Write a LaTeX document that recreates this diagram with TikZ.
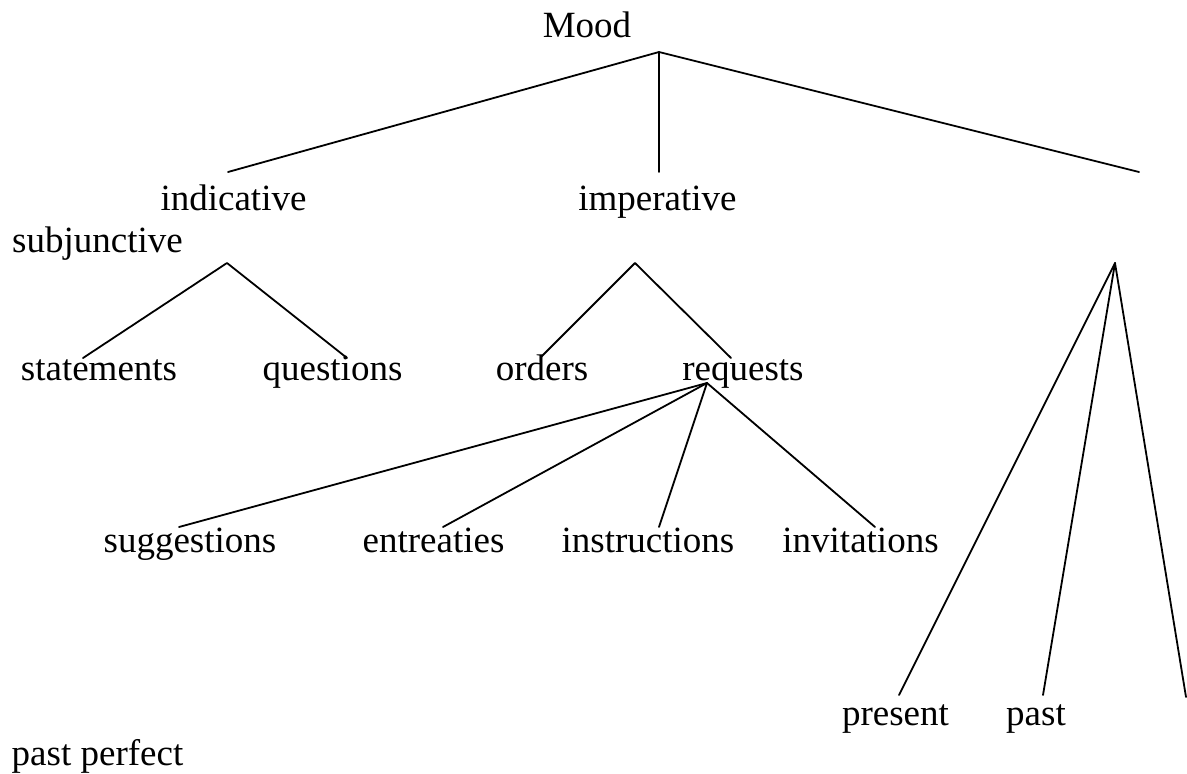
\documentclass[tikz,border=0pt]{standalone}
\usepackage{fontspec}
\setmainfont{Liberation Serif}
\begin{document}
\begin{tikzpicture}[x=1pt,y=-1pt,
  lbl/.style={anchor=base,inner sep=0pt,font=\fontsize{37}{44}\selectfont},
  edge/.style={line width=1.8pt,line cap=round,line join=round}]
\useasboundingbox (0,0) rectangle (1187,774);
% labels
\node[lbl] (mood) at (587,37) {Mood};
\node[lbl] (ind) at (233.5,210) {indicative};
\node[lbl] (imp) at (657.5,210) {imperative};
\node[lbl] (subj) at (97.5,252) {subjunctive};
\node[lbl] (stat) at (99,380) {statements};
\node[lbl] (ques) at (332.5,380) {questions};
\node[lbl] (ord) at (542,380) {orders};
\node[lbl] (req) at (743,380) {requests};
\node[lbl] (sugg) at (190,552) {suggestions};
\node[lbl] (entr) at (433.5,552) {entreaties};
\node[lbl] (instr) at (648,552) {instructions};
\node[lbl] (invit) at (860.5,552) {invitations};
\node[lbl] (pres) at (895.5,725) {present};
\node[lbl] (past) at (1036,725) {past};
\node[lbl] (pperf) at (97.5,765) {past perfect};
% branching points and ends
\coordinate (a0) at (659,52);
\coordinate (e01) at (228,172);
\coordinate (e02) at (659,172);
\coordinate (e03) at (1139,172);
\coordinate (a1) at (227,263);
\coordinate (e11) at (83,358);
\coordinate (e12) at (347,358);
\coordinate (a2) at (635,263);
\coordinate (e21) at (541,357);
\coordinate (e22) at (731,358);
\coordinate (a3) at (707,383);
\coordinate (e31) at (179,527);
\coordinate (e32) at (443,527);
\coordinate (e33) at (659,527);
\coordinate (e34) at (875,527);
\coordinate (a4) at (1115,263);
\coordinate (e41) at (899,695);
\coordinate (e42) at (1043,695);
\coordinate (e43) at (1186,697);
% connectors
\draw[edge] (e01) -- (a0) -- (e03);
\draw[edge] (a0) -- (e02);
\draw[edge] (e11) -- (a1) -- (e12);
\draw[edge] (e21) -- (a2) -- (e22);
\draw[edge] (a3) -- (e31);
\draw[edge] (a3) -- (e32);
\draw[edge] (a3) -- (e33);
\draw[edge] (a3) -- (e34);
\draw[edge] (e41) -- (a4) -- (e43);
\draw[edge] (a4) -- (e42);
\end{tikzpicture}
\end{document}
